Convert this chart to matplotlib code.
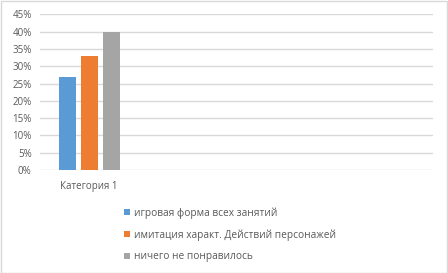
import matplotlib
matplotlib.use("Agg")
import matplotlib.pyplot as plt
from matplotlib.patches import Rectangle
from matplotlib.ticker import PercentFormatter

categories = ["Категория 1"]
series = ["игровая форма всех занятий",
          "имитация характ. Действий персонажей",
          "ничего не понравилось"]
values = [0.27, 0.33, 0.40]
colors = ["#5B9BD5", "#ED7D31", "#A5A5A5"]
yticks = [0, 0.05, 0.10, 0.15, 0.20, 0.25, 0.30, 0.35, 0.40, 0.45]

plt.rcParams['font.family'] = ['Open Sans', 'DejaVu Sans']
W, H = 448, 273
fig = plt.figure(figsize=(W/100, H/100), dpi=100)
fig.patch.set_facecolor("white")
fig.add_artist(Rectangle((0.5/W, 0.5/H), 1-1.5/W, 1-1.5/H, transform=fig.transFigure,
                         fill=False, edgecolor="#D9D9D9", linewidth=1))

ax = fig.add_axes([40/W, (H-170)/H, (433-40)/W, (170-14.3)/H])
ncat = 4
bw = 17/98.25
off = 22/98.25
for i, (s, v, c) in enumerate(zip(series, values, colors)):
    ax.bar([0 + (i-1)*off], [v], width=bw, color=c, label=s, zorder=3)

ax.set_xlim(-0.5, ncat-0.5)
ax.set_ylim(0, 0.45)
ax.set_yticks(yticks)
ax.yaxis.set_major_formatter(PercentFormatter(1.0, decimals=0))
ax.set_xticks([0])
ax.set_xticklabels(categories)
ax.grid(axis='y', color="#D9D9D9", linewidth=1, zorder=0)
for sp in ax.spines.values():
    sp.set_visible(False)
ax.tick_params(axis='both', length=0, labelsize=7, colors="#595959", pad=6)
ax.tick_params(axis='x', pad=8)

leg = fig.legend(loc='upper left', bbox_to_anchor=(119/W, 1-202/H), frameon=False,
                 fontsize=7.3, labelcolor="#595959", handlelength=0.6, handleheight=0.6,
                 handletextpad=0.4, labelspacing=1.05, borderpad=0)
plt.savefig("out.png", dpi=100)
